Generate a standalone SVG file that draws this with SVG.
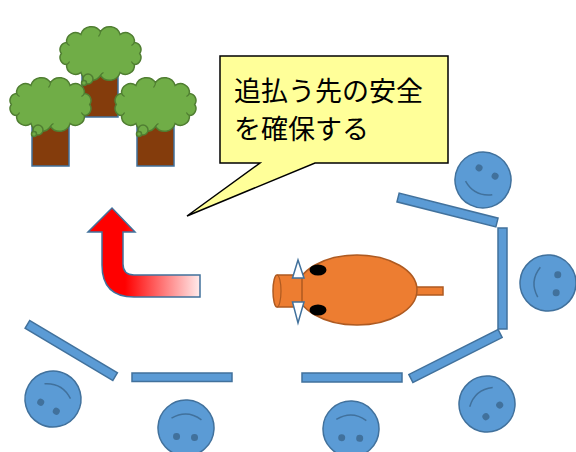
<svg xmlns="http://www.w3.org/2000/svg" xmlns:xlink="http://www.w3.org/1999/xlink" width="576" height="452" viewBox="0 0 576 452">
  <style>
    .trunk { fill: #843C0C; stroke: #41719C; stroke-width: 1.5; }
    .leaf { fill: #70AD47; stroke: #507E32; stroke-width: 1.5; }
    .crease { fill: none; stroke: #507E32; stroke-width: 1.2; }
    .fence { fill: #5B9BD5; stroke: #41719C; stroke-width: 1.5; }
    .face { fill: #5B9BD5; stroke: #41719C; stroke-width: 1.5; }
    .eye { fill: #41719C; stroke: none; }
    .mouth { fill: none; stroke: #41719C; stroke-width: 1.5; }
    .callout { fill: #FFFF99; stroke: #000000; stroke-width: 1.5; }
    .label { font-family: "Noto Sans CJK JP", "Noto Sans CJK SC", sans-serif; font-size: 27px; fill: #000000; }
    .boar { fill: #ED7D31; stroke: #AE5A21; stroke-width: 1.5; }
    .tusk { fill: #FFFFFF; stroke: #41719C; stroke-width: 1.5; }
  </style>
  <defs>
    <!-- foliage outline, 85 x 56 box -->
    <g id="crown">
      <path class="leaf" d="M3.3,27.5 A7,7 0 0 1 8.6,16.5 A9,9 0 0 1 22.9,8.4 A11,11 0 0 1 42.5,5.5 A11,11 0 0 1 62.1,8.4 A9,9 0 0 1 76.4,16.5 A7,7 0 0 1 81.7,27.5 A7,7 0 0 1 76.4,38.5 A9,9 0 0 1 62.1,46.6 A11,11 0 0 1 42.5,49.5 A11,11 0 0 1 22.9,46.6 A9,9 0 0 1 8.6,38.5 A7,7 0 0 1 3.3,27.5 Z"/>
      <path class="crease" d="M8.6,16.5 q1,2 3,3 M42.5,5.5 q0,3 -2,5 M76.4,16.5 q-1,2 -3,3 M76.4,38.5 q-2,-1 -3,-3 M42.5,49.5 q1,-2 3,-3 M8.6,38.5 q2,-1 3,-3"/>
      <circle class="leaf" cx="30" cy="53" r="5"/>
      <circle class="leaf" cx="26" cy="57" r="2.5"/>
    </g>
    <!-- smiling face centred on the origin -->
    <g id="smiley">
      <circle class="face" r="28"/>
      <circle class="eye" cx="-9" cy="-9" r="3.5"/>
      <circle class="eye" cx="9" cy="-9" r="3.5"/>
      <path class="mouth" d="M-15,9 Q0,19 15,9"/>
    </g>
    <linearGradient id="fade" gradientUnits="userSpaceOnUse" x1="125" y1="0" x2="202" y2="0">
      <stop offset="0" stop-color="#FF0000"/>
      <stop offset="1" stop-color="#FFF2F2"/>
    </linearGradient>
  </defs>

  <rect width="576" height="452" fill="#FFFFFF"/>

  <!-- forest -->
  <g id="tree-back">
    <rect class="trunk" x="82" y="73" width="36" height="44"/>
    <use xlink:href="#crown" transform="translate(58,26)"/>
  </g>
  <g id="tree-left">
    <rect class="trunk" x="32" y="120" width="37" height="46"/>
    <use xlink:href="#crown" transform="translate(8,77)"/>
  </g>
  <g id="tree-right">
    <rect class="trunk" x="137" y="120" width="37" height="46"/>
    <use xlink:href="#crown" transform="translate(113,77)"/>
  </g>

  <!-- speech balloon -->
  <g id="callout">
    <path class="callout" d="M220,56 H448 V163 H315 L187,216 L260,163 H220 Z"/>
    <text class="label" x="234" y="101">追払う先の安全</text>
    <text class="label" x="234" y="139">を確保する</text>
  </g>

  <!-- turn-back arrow -->
  <g id="arrow">
    <path d="M200,275 H134 Q123,275 123,264 V232 H135 L112,208 L88,232 H102 V265 Q102,297 134,297 H200 Z" fill="url(#fade)" stroke="#41719C" stroke-width="1.5"/>
  </g>

  <!-- boar -->
  <g id="boar">
    <rect class="boar" x="413" y="287" width="30" height="8"/>
    <ellipse class="boar" cx="357" cy="290" rx="60" ry="35"/>
    <path class="boar" d="M302,275 H277 A4,16 0 0 0 277,307 H302 Z"/>
    <path fill="none" stroke="#AE5A21" stroke-width="1.2" d="M277,275 A4,16 0 0 1 277,307"/>
    <ellipse cx="318" cy="270" rx="8.5" ry="5.5" fill="#000000"/>
    <ellipse cx="318" cy="310" rx="8.5" ry="5.5" fill="#000000"/>
    <polygon class="tusk" points="298,260 292.5,278 304,278"/>
    <polygon class="tusk" points="292.5,302 304,302 298,323"/>
  </g>

  <!-- fence panels -->
  <g id="fences">
    <rect class="fence" x="-51" y="-4.5" width="102" height="9" transform="translate(447.5,210) rotate(14.2)"/>
    <rect class="fence" x="498" y="228" width="9" height="101"/>
    <rect class="fence" x="-50" y="-4.5" width="100" height="9" transform="translate(455.5,356) rotate(-26.8)"/>
    <rect class="fence" x="302" y="373" width="100" height="9"/>
    <rect class="fence" x="132" y="373" width="100" height="8.5"/>
    <rect class="fence" x="-51" y="-4.5" width="102" height="9" transform="translate(71.25,350.5) rotate(30.7)"/>
  </g>

  <!-- people around the enclosure -->
  <g id="person-1"><use xlink:href="#smiley" transform="translate(483,180) rotate(27)"/></g>
  <g id="person-2"><use xlink:href="#smiley" transform="translate(548,283) rotate(95)"/></g>
  <g id="person-3"><use xlink:href="#smiley" transform="translate(487,404) rotate(140)"/></g>
  <g id="person-4"><use xlink:href="#smiley" transform="translate(351,429) rotate(182)"/></g>
  <g id="person-5"><use xlink:href="#smiley" transform="translate(186,428) rotate(183)"/></g>
  <g id="person-6"><use xlink:href="#smiley" transform="translate(53,399) rotate(210)"/></g>
</svg>
